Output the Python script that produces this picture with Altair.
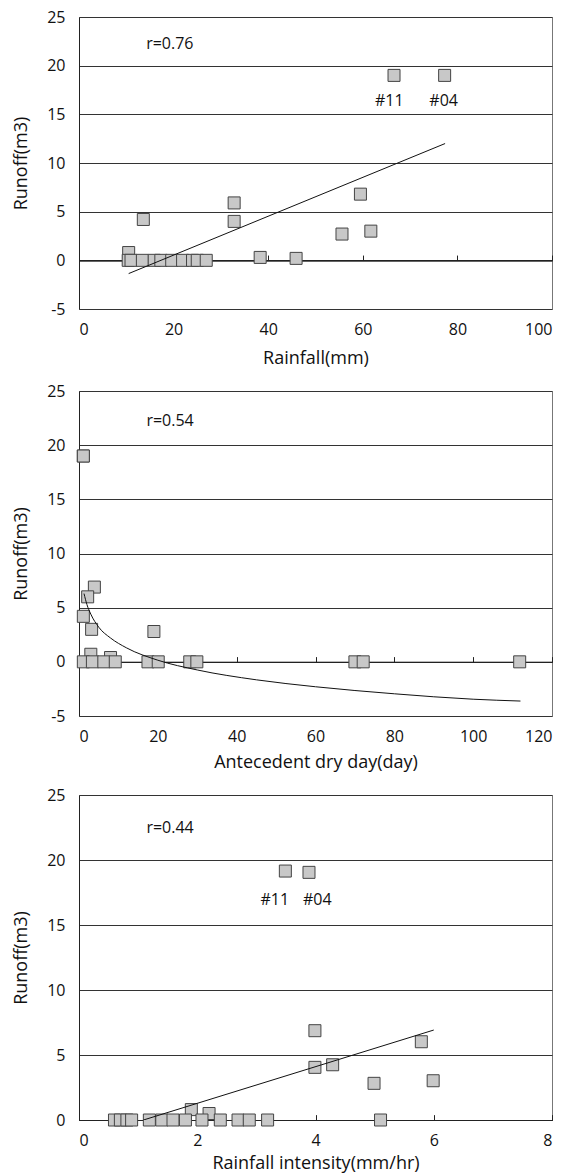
import altair as alt
import pandas as pd

FONT = "Open Sans"

# ---------------- Panel 1: Rainfall vs Runoff ----------------
p1_x = [10.5, 66.6, 77.3, 59.5, 55.6, 61.7, 32.8, 32.8, 13.6, 38.3, 45.9,
        10.4, 11.0, 13.4, 15.9, 17.3, 19.6, 21.9, 24.0, 25.0, 26.9]
p1_y = [0.8, 19.0, 19.0, 6.8, 2.7, 3.0, 5.9, 4.0, 4.2, 0.3, 0.2,
        0, 0, 0, 0, 0, 0, 0, 0, 0, 0]
p1_trend_x = [10.5, 77.4]
p1_trend_y = [-1.36, 12.0]
p1_r_x, p1_r_y, p1_r_t = [14.2], [22.2], ["r=0.76"]
p1_tag_x, p1_tag_y, p1_tag_t = [65.6, 77.1], [16.4, 16.4], ["#11", "#04"]

# ---------------- Panel 2: Antecedent dry day vs Runoff ----------------
p2_x = [1.1, 1.1, 3.9, 2.2, 1.1, 3.2, 19.0, 3.0, 8.0,
        1.1, 3.4, 6.3, 9.2, 17.5, 20.1, 28.1, 29.9, 70.0, 72.1, 111.8]
p2_y = [19.0, 19.0, 6.9, 6.0, 4.2, 3.0, 2.8, 0.7, 0.4,
        0, 0, 0, 0, 0, 0, 0, 0, 0, 0, 0]
p2_trend_x = [1.27, 2, 3, 5, 8, 12, 20, 30, 45, 60, 80, 100, 112]
p2_trend_y = [6.3, 5.3, 4.4, 3.2, 2.2, 1.3, 0.15, -0.75, -1.66, -2.3, -2.95, -3.45, -3.62]
p2_r_x, p2_r_y, p2_r_t = [17.1], [22.2], ["r=0.54"]

# ---------------- Panel 3: Rainfall intensity vs Runoff ----------------
p3_x = [1.9, 2.2, 3.49, 3.89, 3.99, 5.79, 3.99, 4.29, 4.99, 5.99,
        0.60, 0.70, 0.81, 0.89, 1.19, 1.40, 1.59, 1.80, 2.08, 2.39, 2.69, 2.88, 3.19, 5.1]
p3_y = [0.8, 0.5, 19.15, 19.05, 6.87, 6.02, 4.05, 4.25, 2.82, 3.02,
        0, 0, 0, 0, 0, 0, 0, 0, 0, 0, 0, 0, 0, 0]
p3_trend_x = [1.09, 6.0]
p3_trend_y = [0.0, 6.92]
p3_r_x, p3_r_y, p3_r_t = [1.14], [22.5], ["r=0.44"]
p3_tag_x, p3_tag_y, p3_tag_t = [3.31, 4.03], [16.9, 16.9], ["#11", "#04"]


def panel(px, py, tx, ty, rx, ry, rt, gx, gy, gt, xdom, xvals, ydom, yvals,
          xtitle, w, h, interp, xtp):
    xs = alt.Scale(domain=xdom, nice=False, zero=False)
    ys = alt.Scale(domain=ydom, nice=False, zero=False)
    zero_px = h * (ydom[1] - 0) / (ydom[1] - ydom[0])

    yaxis = alt.Axis(values=yvals, title="Runoff(m3)", grid=True, gridColor="#333",
                     gridWidth=1, ticks=False, domain=True, domainColor="#222",
                     labelPadding=14, titlePadding=16, labelExpr="datum.value")
    xaxis_b = alt.Axis(orient="bottom", values=xvals, title=xtitle, ticks=False,
                       domain=False, grid=False, labelPadding=12, titlePadding=xtp)
    xaxis_t = alt.Axis(orient="top", values=xvals, labels=False, title=None,
                       ticks=True, tickSize=5, tickColor="#222", domain=True,
                       domainColor="#222", grid=False, offset=-zero_px)

    pts = pd.DataFrame({"x": px, "y": py})
    tr = pd.DataFrame({"x": tx, "y": ty})
    rdf = pd.DataFrame({"x": rx, "y": ry, "t": rt})

    Y = alt.Y("y:Q", scale=ys, axis=yaxis)

    points = alt.Chart(pts).mark_square(
        size=144, fill="#c8c8c8", stroke="#444", strokeWidth=1, opacity=1
    ).encode(x=alt.X("x:Q", scale=xs, axis=xaxis_b), y=Y)
    trend = alt.Chart(tr).mark_line(
        color="#111", strokeWidth=1, interpolate=interp, clip=True
    ).encode(x=alt.X("x:Q", scale=xs, axis=xaxis_t), y=Y)
    rtext = alt.Chart(rdf).mark_text(
        align="left", baseline="middle", fontSize=16, font=FONT, color="#111"
    ).encode(x=alt.X("x:Q", scale=xs, axis=xaxis_t), y=Y, text="t:N")
    layers = [points, trend, rtext]
    if gx:
        gdf = pd.DataFrame({"x": gx, "y": gy, "t": gt})
        tags = alt.Chart(gdf).mark_text(
            align="center", baseline="middle", fontSize=16, font=FONT, color="#111"
        ).encode(x=alt.X("x:Q", scale=xs, axis=xaxis_t), y=Y, text="t:N")
        layers.append(tags)
    return alt.layer(*layers).resolve_axis(x="independent").properties(width=w, height=h)


c1 = panel(p1_x, p1_y, p1_trend_x, p1_trend_y, p1_r_x, p1_r_y, p1_r_t,
           p1_tag_x, p1_tag_y, p1_tag_t, [0, 100], [0, 20, 40, 60, 80, 100],
           [-5, 25], [-5, 0, 5, 10, 15, 20, 25], "Rainfall(mm)", 473, 292, "linear", 12)
c2 = panel(p2_x, p2_y, p2_trend_x, p2_trend_y, p2_r_x, p2_r_y, p2_r_t,
           [], [], [], [0, 120], [0, 20, 40, 60, 80, 100, 120],
           [-5, 25], [-5, 0, 5, 10, 15, 20, 25], "Antecedent dry day(day)", 473, 325,
           "monotone", 9)
c3 = panel(p3_x, p3_y, p3_trend_x, p3_trend_y, p3_r_x, p3_r_y, p3_r_t,
           p3_tag_x, p3_tag_y, p3_tag_t, [0, 8], [0, 2, 4, 6, 8],
           [0, 25], [0, 5, 10, 15, 20, 25], "Rainfall intensity(mm/hr)", 473, 325,
           "linear", 6)

chart = alt.vconcat(c1, c2, c3, spacing=14).configure_view(
    stroke="#777", strokeWidth=1
).configure_axis(
    labelFont=FONT, titleFont=FONT, labelFontSize=16, titleFontSize=18,
    labelColor="#111", titleColor="#111", titleFontWeight="normal"
).properties(padding={"left": 4, "top": 0, "right": 0, "bottom": 0})

chart.save("out.html", embed_options={"renderer": "svg", "actions": False})
